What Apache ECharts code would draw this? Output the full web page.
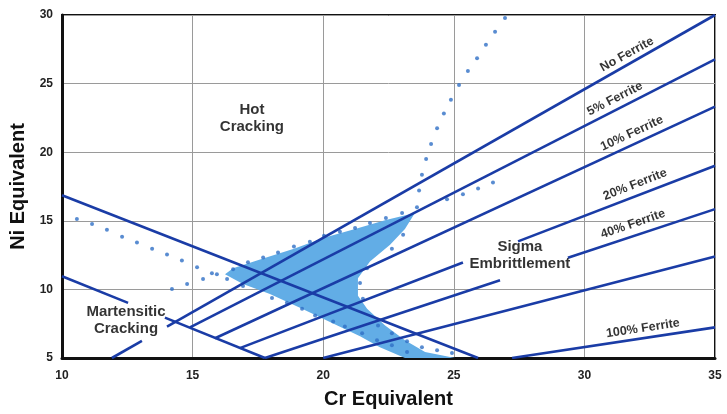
<!DOCTYPE html>
<html><head><meta charset="utf-8">
<script src="https://cdn.jsdelivr.net/npm/echarts@6.0.0/dist/echarts.min.js"></script>
<style>html,body{margin:0;padding:0;background:#fff}#c{width:727px;height:414px}</style>
</head><body><div id="c"></div>
<script>
// Axis ranges [min, max, interval]
const crAxis = [10, 35, 5];
const niAxis = [5, 30, 5];

// Constitution lines (each is a list of segments [[cr,ni],[cr,ni]])
const lineNoFerrite = [[[11.91, 5], [13.06, 6.25]], [[14.02, 7.29], [35, 30]]];
const line5Ferrite  = [[[14.90, 7.23], [35, 26.77]]];
const line10Ferrite = [[[15.86, 6.44], [35, 23.32]]];
const line20Ferrite = [[[16.81, 5.72], [25.35, 11.96]], [[27.46, 13.50], [35, 19.01]]];
const line40Ferrite = [[[17.77, 5], [26.77, 10.67]], [[29.37, 12.30], [35, 15.85]]];
const line80Ferrite = [[[20, 5], [35, 12.40]]];
const line100Ferrite = [[[27.23, 5], [35, 7.23]]];
const martensiteUpper = [[[10, 16.86], [25.93, 5]]];
const martensiteLower = [[[10, 10.96], [12.53, 9.02]], [[13.94, 7.94], [17.77, 5]]];

// Shaded weld-metal region
const shadedRegion = [
  [16.24, 11.11], [16.55, 11.54], [17.70, 12.26], [18.88, 12.97], [20.03, 13.76],
  [21.22, 14.41], [22.40, 15.06], [23.51, 15.56], [23.13, 14.41], [22.56, 13.26],
  [21.79, 12.04], [21.33, 10.82], [21.33, 9.53], [21.68, 8.59], [22.37, 7.37],
  [23.13, 6.29], [23.90, 5.43], [25.05, 5.0], [23.13, 5.0], [22.17, 5.79],
  [21.41, 6.58], [20.38, 7.51], [19.11, 8.66], [17.96, 9.67], [16.93, 10.39]
];

// Dotted boundary points
const dotsLeft = [
  [10.57, 15.13], [11.15, 14.77], [11.72, 14.34], [12.30, 13.84], [12.87, 13.41],
  [13.45, 12.97], [14.02, 12.54], [14.59, 12.11], [15.17, 11.61], [15.74, 11.18],
  [15.93, 11.11], [16.32, 10.75], [16.55, 11.47], [14.21, 10.03], [14.79, 10.39], [15.40, 10.75]
];
const dotsUpperEdge = [
  [17.12, 11.97], [17.70, 12.33], [18.27, 12.69], [18.88, 13.12], [19.49, 13.48],
  [20.03, 13.91], [20.64, 14.20], [21.22, 14.48], [21.79, 14.84], [22.40, 15.20], [23.02, 15.56]
];
const dotsUpperChain = [
  [23.59, 15.99], [23.67, 17.21], [23.78, 18.36], [23.94, 19.51], [24.13, 20.59],
  [24.36, 21.74], [24.62, 22.82], [24.89, 23.82], [25.20, 24.90], [25.54, 25.91],
  [25.89, 26.84], [26.23, 27.84], [26.58, 28.78], [26.96, 29.78]
];
const dotsRightChain = [[24.74, 16.57], [25.35, 16.93], [25.93, 17.36], [26.50, 17.79]];
const dotsRightEdge = [
  [23.06, 13.98], [22.63, 12.97], [21.68, 11.54], [21.41, 10.46], [21.52, 9.31],
  [22.10, 7.37], [22.63, 6.80], [23.21, 6.22], [23.78, 5.79], [24.36, 5.57], [24.93, 5.36]
];
const dotsLowerEdge = [
  [16.93, 10.24], [18.04, 9.38], [18.61, 9.02], [19.19, 8.59], [19.69, 8.09],
  [20.38, 7.66], [20.83, 7.30], [21.49, 6.80], [22.06, 6.29], [22.63, 5.93], [23.21, 5.43]
];

// Line labels: text, position, rotation
const ferriteLabelText = ['No Ferrite', '5% Ferrite', '10% Ferrite', '20% Ferrite', '40% Ferrite', '100% Ferrite'];
const ferriteLabelPos = [[31.63, 27.13], [31.17, 23.89], [31.82, 21.38], [31.94, 17.64], [31.86, 14.77], [32.24, 7.16]];
const ferriteLabelRot = [29, 27, 25, 21.5, 19, 8.5];

const regionLabelText = ['Hot\nCracking', 'Sigma\nEmbrittlement', 'Martensitic\nCracking'];
const regionLabelPos = [[17.27, 22.46], [27.53, 12.47], [12.45, 7.73]];

const LINE_COLOR = '#1a3ca6';
const DOT_COLOR = '#2f6fc6';
const FONT = 'Liberation Sans, Arial, sans-serif';

const series = [];
series.push({
  type: 'custom', z: 1, silent: true,
  data: shadedRegion,
  renderItem: function (params, api) {
    if (params.dataIndex !== 0) return null;
    const pts = shadedRegion.map(p => api.coord(p));
    return { type: 'polygon', shape: { points: pts }, style: { fill: '#62ade6' } };
  }
});
[dotsLeft, dotsUpperEdge, dotsUpperChain, dotsRightChain, dotsRightEdge, dotsLowerEdge].forEach(d => {
  series.push({ type: 'scatter', z: 2, data: d, symbolSize: 4, itemStyle: { color: DOT_COLOR }, silent: true });
});
[lineNoFerrite, line5Ferrite, line10Ferrite, line20Ferrite, line40Ferrite, line80Ferrite, line100Ferrite,
 martensiteUpper, martensiteLower].forEach(segs => {
  segs.forEach(seg => {
    series.push({ type: 'line', z: 3, data: seg, showSymbol: false, symbol: 'none', silent: true,
      lineStyle: { color: LINE_COLOR, width: 2.6 } });
  });
});
series.push({
  type: 'scatter', z: 5, symbolSize: 0, silent: true,
  data: ferriteLabelText.map((t, i) => ({ name: t, value: ferriteLabelPos[i], label: { rotate: ferriteLabelRot[i] } })),
  label: { show: true, position: 'inside', formatter: p => p.name, color: '#000',
    fontWeight: 'bold', fontSize: 12.5, fontFamily: FONT }
});
series.push({
  type: 'scatter', z: 5, symbolSize: 0, silent: true,
  data: regionLabelText.map((t, i) => ({ name: t, value: regionLabelPos[i] })),
  label: { show: true, position: 'inside', formatter: p => p.name, color: '#000',
    fontWeight: 'bold', fontSize: 15, lineHeight: 17, fontFamily: FONT, align: 'center' }
});

const chart = echarts.init(document.getElementById('c'), null, { renderer: 'canvas' });
chart.setOption({
  animation: false,
  backgroundColor: '#fff',
  grid: { left: 62, right: 12, top: 15, bottom: 51, show: true, borderColor: '#111', borderWidth: 2 },
  xAxis: {
    type: 'value', min: crAxis[0], max: crAxis[1], interval: crAxis[2],
    name: 'Cr Equivalent', nameLocation: 'middle', nameGap: 31,
    nameTextStyle: { fontWeight: 'bold', fontSize: 20, color: '#111', fontFamily: FONT },
    axisLine: { lineStyle: { color: '#111', width: 3 } },
    axisTick: { show: false },
    axisLabel: { fontWeight: 'bold', fontSize: 12, color: '#222', margin: 12, fontFamily: FONT },
    splitLine: { lineStyle: { color: '#9a9a9a', width: 1 } }
  },
  yAxis: {
    type: 'value', min: niAxis[0], max: niAxis[1], interval: niAxis[2],
    name: 'Ni Equivalent', nameLocation: 'middle', nameGap: 30,
    nameTextStyle: { fontWeight: 'bold', fontSize: 20, color: '#111', fontFamily: FONT },
    axisLine: { show: true, lineStyle: { color: '#111', width: 3 } },
    axisTick: { show: false },
    axisLabel: { fontWeight: 'bold', fontSize: 12, color: '#222', margin: 9, fontFamily: FONT },
    splitLine: { lineStyle: { color: '#9a9a9a', width: 1 } }
  },
  series: series
});
</script>
</body></html>
